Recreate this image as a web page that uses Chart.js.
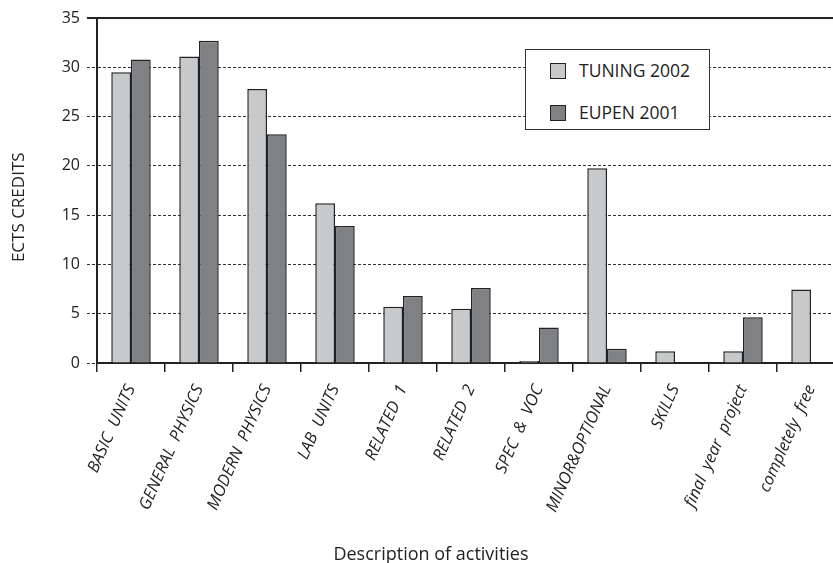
<!DOCTYPE html>
<html>
<head>
<meta charset="utf-8">
<script src="https://cdn.jsdelivr.net/npm/chart.js@4/dist/chart.umd.min.js"></script>
<style>
  html, body { margin: 0; padding: 0; background: #fff; overflow: hidden; }
  #wrap { position: relative; width: 845px; height: 563px; }
  #legend {
    position: absolute; left: 525px; top: 49px; width: 183px; height: 79px;
    border: 1px solid #333; background: #fff;
    font-family: "Open Sans", sans-serif; font-size: 17.5px; color: #222;
  }
  #legend .item { position: absolute; left: 24px; height: 18px; line-height: 18px; }
  #legend .sw { position: absolute; left: 0; top: 1px; width: 14px; height: 14px; border: 1px solid #222; }
  #legend .tx { position: absolute; left: 29px; top: -1px; white-space: nowrap; }
</style>
</head>
<body>
<div id="wrap">
  <canvas id="bar-chart" width="845" height="563"></canvas>
  <div id="legend"></div>
</div>
<script>
// categorias e valores
const categories = ["BASIC  UNITS", "GENERAL  PHYSICS", "MODERN  PHYSICS", "LAB  UNITS", "RELATED  1", "RELATED  2",
   "SPEC  &  VOC", "MINOR&OPTIONAL", "SKILLS", "final  year  project", "completely  free"];
const tuning2002 = [29.5, 31.1, 27.8, 16.2, 5.7, 5.5, 0.2, 19.75, 1.2, 1.2, 7.45];
const eupen2001 = [30.8, 32.7, 23.2, 13.9, 6.8, 7.6, 3.6, 1.45, 0, 4.65, 0];
const yTicks = [0, 5, 10, 15, 20, 25, 30, 35];
const xTitle = 'Description of activities';
const yTitle = 'ECTS CREDITS';

const lightGray = '#c8c9cb';
const darkGray = '#808185';

// linha solida no topo (35) + titulos dos eixos
const extras = {
   id: 'extras',
   afterDraw(chart) {
      const c = chart.ctx, y = chart.scales.y.getPixelForValue(35);
      c.save();
      c.strokeStyle = '#222';
      c.lineWidth = 2;
      c.beginPath();
      c.moveTo(chart.chartArea.left - 10, y);
      c.lineTo(chart.chartArea.right + 5, y);
      c.stroke();

      c.fillStyle = '#222';
      c.textAlign = 'center';
      c.textBaseline = 'middle';
      c.font = '18px "Open Sans"';
      c.fillText(xTitle, 431, 555);
      c.translate(19, chart.scales.y.getPixelForValue(15.8));
      c.rotate(-Math.PI / 2);
      c.font = '17px "Open Sans"';
      c.fillText(yTitle, 0, 0);
      c.restore();
   }
};

const ctx = document.getElementById("bar-chart");
const chart = new Chart(ctx, {
   type: 'bar',
   data: {
      labels: categories,
      datasets: [{
         label: 'TUNING 2002',
         data: tuning2002,
         backgroundColor: lightGray,
         borderColor: '#222',
         borderWidth: 1.5
      }, {
         label: 'EUPEN 2001',
         data: eupen2001,
         backgroundColor: darkGray,
         borderColor: '#222',
         borderWidth: 1.5
      }]
   },
   options: {
      responsive: false,
      animation: false,
      layout: { padding: { top: 18, left: 0, right: 0, bottom: 0 } },
      datasets: { bar: { barPercentage: 1, categoryPercentage: 0.58 } },
      plugins: {
         legend: { display: false },
         tooltip: { enabled: false }
      },
      scales: {
         x: {
            grid: { offset: true, drawOnChartArea: false, drawTicks: true, tickLength: 9, color: '#222', lineWidth: 1.5 },
            border: { display: true, color: '#222', width: 2 },
            ticks: {
               minRotation: 66, maxRotation: 66, autoSkip: false, padding: 10,
               color: '#222',
               font: { family: 'Open Sans', size: 16.5, style: 'italic' }
            },
            afterFit: s => { s.height = 200; }
         },
         y: {
            min: 0, max: 35,
            afterBuildTicks: s => { s.ticks = yTicks.map(v => ({ value: v })); },
            grid: { color: '#333', lineWidth: 1, tickLength: 10, tickBorderDash: [3, 2] },
            border: { display: true, color: '#222', width: 2, dash: [3, 2] },
            ticks: { color: '#222', padding: 7, font: { family: 'Open Sans', size: 16 } },
            afterFit: s => { s.width = 97; }
         }
      }
   },
   plugins: [extras]
});

// legenda em HTML, a partir dos datasets
const legendEl = document.getElementById('legend');
chart.data.datasets.forEach((ds, i) => {
   const item = document.createElement('div');
   item.className = 'item';
   item.style.top = (12 + i * 42) + 'px';
   item.innerHTML = '<span class="sw" style="background:' + ds.backgroundColor + '"></span><span class="tx">' + ds.label + '</span>';
   legendEl.appendChild(item);
});
</script>
</body>
</html>
